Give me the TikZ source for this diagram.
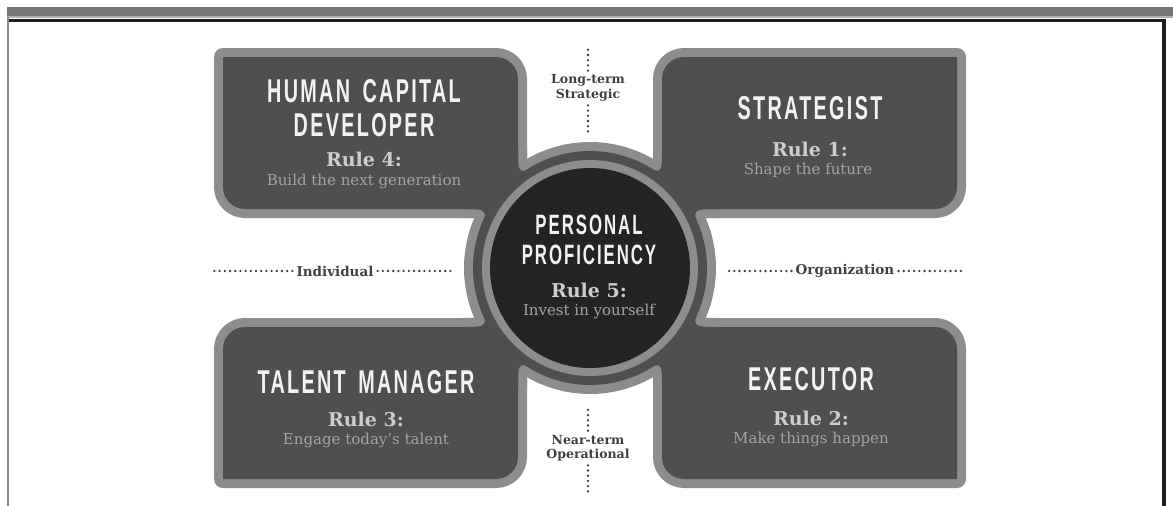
\documentclass[tikz,border=0pt]{standalone}
\usepackage{fontspec}
\setmainfont{DejaVu Serif}
\newfontfamily\titlefont[FakeStretch=0.6,LetterSpace=7,WordSpace=1.6]{Liberation Sans}
\definecolor{outl}{HTML}{8D8D8D}
\definecolor{boxg}{HTML}{4F4F4F}
\definecolor{diskc}{HTML}{242424}
\definecolor{titlec}{HTML}{F2F2F2}
\definecolor{rulec}{HTML}{CDCDCD}
\definecolor{subc}{HTML}{A4A4A4}
\definecolor{lblc}{HTML}{404040}
\definecolor{dotc}{HTML}{3C3C3C}
\definecolor{barc}{HTML}{767676}
\definecolor{barl}{HTML}{B0B0B0}
\definecolor{framedk}{HTML}{1E1E1E}
\definecolor{framel}{HTML}{8A8A8A}
% top-left quadrant shapes (y downwards)
\newcommand\TLbox{(223,57) -- (496,57) arc[start angle=-90,end angle=0,radius=22] -- (518,209) -- (245,209) arc[start angle=90,end angle=180,radius=22] -- cycle}
\newcommand\TLfa{(518,175.8) -- (518,147.8) .. controls (518,175.8) .. (541.9,161.3) -- cycle}
\newcommand\TLfb{(489.0,209) -- (461.0,209) .. controls (489.0,209) .. (477.9,234.6) -- cycle}
\newcommand\quadshapes[1]{%
  \path[#1] \TLbox; \path[#1] \TLfa; \path[#1] \TLfb;}
\newcommand\allquads[1]{%
  \begin{scope}\quadshapes{#1}\end{scope}
  \begin{scope}[xshift=1180pt,xscale=-1]\quadshapes{#1}\end{scope}
  \begin{scope}[yshift=-536pt,yscale=-1]\quadshapes{#1}\end{scope}
  \begin{scope}[xshift=1180pt,xscale=-1,yshift=-536pt,yscale=-1]\quadshapes{#1}\end{scope}
  \path[#1] (590,268) circle[radius=117];}
\tikzset{
  outlinestroke/.style={draw=outl,line width=18pt,line join=round},
  boxfill/.style={fill=boxg},
  ttl/.style={font=\titlefont\bfseries\fontsize{33}{33}\selectfont,text=titlec,anchor=base,inner sep=0pt},
  ctl/.style={ttl,font=\titlefont\bfseries\fontsize{28}{28}\selectfont},
  rul/.style={font=\bfseries\fontsize{19}{19}\selectfont,text=rulec,anchor=base,inner sep=0pt},
  subt/.style={font=\fontsize{15}{15}\selectfont,text=subc,anchor=base,inner sep=0pt},
  lbl/.style={font=\bfseries\fontsize{12.5}{14.5}\selectfont,text=lblc,align=center,inner xsep=4pt,inner ysep=4pt},
  dotline/.style={draw=dotc,line width=2.6pt,line cap=round,dash pattern=on 0pt off 5.2pt}
}
\begin{document}
\begin{tikzpicture}[x=1pt,y=-1pt]
\useasboundingbox (0,0) rectangle (1173,506);
% frame
\fill[barc] (7,7) rectangle (1173,16);
\fill[barl] (7,16) rectangle (1173,17.5);
\fill[framedk] (7,18.5) rectangle (1166,22);
\fill[framel] (7,17) rectangle (8.5,506);
\fill[framedk] (1162,18.5) rectangle (1166,506);
% shapes
\allquads{outlinestroke}
\allquads{boxfill}
\fill[outl] (590,268) circle[radius=108];
\fill[diskc] (590,268) circle[radius=100];
% box texts
\node[ttl] (hc1) at (364,102) {HUMAN CAPITAL};
\node[ttl] (hc2) at (364,136) {DEVELOPER};
\node[rul] (r4) at (364,166) {Rule 4:};
\node[subt] (s4) at (364,185) {Build the next generation};
\node[ttl] (st) at (810,119.5) {STRATEGIST};
\node[rul] (r1) at (810,156) {Rule 1:};
\node[subt] (s1) at (808,174) {Shape the future};
\node[ctl] (pp1) at (589,234) {PERSONAL};
\node[ctl] (pp2) at (589,264) {PROFICIENCY};
\node[rul] (r5) at (589,297) {Rule 5:};
\node[subt] (s5) at (589,315.5) {Invest in yourself};
\node[ttl] (tm) at (366,393) {TALENT MANAGER};
\node[rul] (r3) at (366,426) {Rule 3:};
\node[subt] (s3) at (366,444.5) {Engage today’s talent};
\node[ttl] (ex) at (811,390) {EXECUTOR};
\node[rul] (r2) at (811,425.5) {Rule 2:};
\node[subt] (s2) at (811,443) {Make things happen};
% axis labels and dotted lines
\node[lbl] (lt) at (588,88) {Long-term\\Strategic};
\coordinate (ltA) at (588,47);
\coordinate (ltB) at (588,132);
\draw[dotline] (lt) -- (ltA);
\draw[dotline] (lt) -- (ltB);
\node[lbl] (nt) at (588,448) {Near-term\\Operational};
\coordinate (ntA) at (588,405);
\coordinate (ntB) at (588,493);
\draw[dotline] (nt) -- (ntA);
\draw[dotline] (nt) -- (ntB);
\node[lbl,font=\bfseries\fontsize{13.5}{15}\selectfont] (ind) at (335,271) {Individual};
\coordinate (indA) at (213,271);
\coordinate (indB) at (452,271);
\draw[dotline] (ind) -- (indA);
\draw[dotline] (ind) -- (indB);
\node[lbl,font=\bfseries\fontsize{13.5}{15}\selectfont] (org) at (845,271) {Organization};
\coordinate (orgA) at (727,271);
\coordinate (orgB) at (966,271);
\draw[dotline] (org) -- (orgA);
\draw[dotline] (org) -- (orgB);
\end{tikzpicture}
\end{document}
